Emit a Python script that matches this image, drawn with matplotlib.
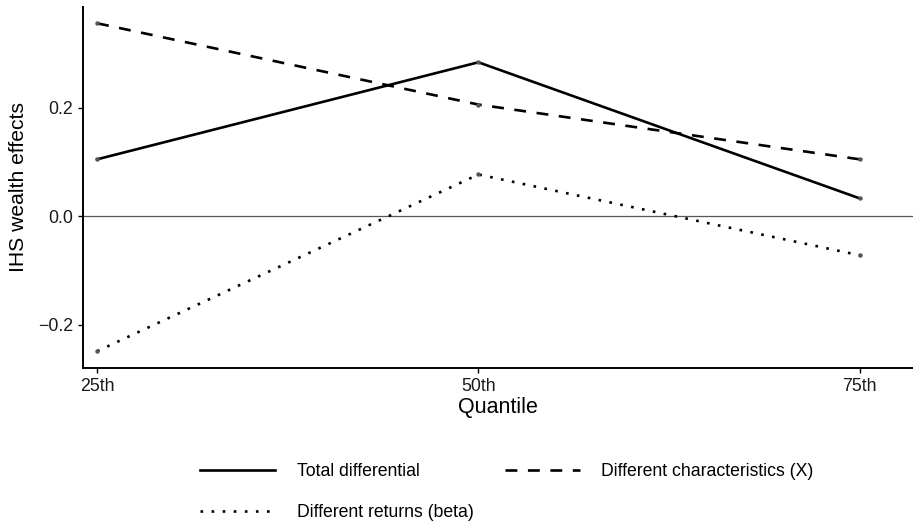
import matplotlib
matplotlib.use("Agg")
import matplotlib.pyplot as plt
from matplotlib.lines import Line2D

plt.rcParams["font.family"] = ["Liberation Sans", "DejaVu Sans"]

quantiles = ["25th", "50th", "75th"]
total_diff = [0.105, 0.284, 0.033]
diff_chars = [0.356, 0.206, 0.105]
diff_returns = [-0.249, 0.077, -0.072]

x = [1, 2, 3]
lw = 1.9

fig = plt.figure(figsize=(9.13, 5.25), dpi=100)
ax = fig.add_axes([83 / 913, 1 - 368 / 525, 1 - 83 / 913, (368 - 7) / 525])

ax.axhline(0, color="#555555", lw=0.9, zorder=1)

styles = [
    (total_diff, "-", "Total differential"),
    (diff_chars, (0, (4.5, 4.0)), "Different characteristics (X)"),
    (diff_returns, (0, (1, 3.2)), "Different returns (beta)"),
]
handles = {}
for vals, ls, lab in styles:
    ax.plot(x, vals, color="black", lw=lw, linestyle=ls, zorder=2)
    ax.plot(x, vals, "o", color="#555555", ms=3.2, mec="none", zorder=3)
    handles[lab] = Line2D([], [], color="black", lw=lw, linestyle=ls)

ax.set_xlim(0.963, 3.14)
ax.set_ylim(-0.280, 0.386)
ax.set_xticks(x)
ax.set_xticklabels(quantiles)
ax.set_yticks([-0.2, 0.0, 0.2])
ax.set_yticklabels(["\u22120.2", "0.0", "0.2"])
ax.tick_params(labelsize=12.8, length=3.5, width=1, pad=3.5,
               color="black", labelcolor="#1a1a1a")

for s in ["top", "right"]:
    ax.spines[s].set_visible(False)
for s in ["left", "bottom"]:
    ax.spines[s].set_linewidth(1.4)

ax.set_xlabel("Quantile", fontsize=15.5, labelpad=2)
ax.set_ylabel("IHS wealth effects", fontsize=15.2, labelpad=7)

order = ["Total differential", "Different returns (beta)", "Different characteristics (X)"]
fig.legend([handles[k] for k in order], order, ncol=2, frameon=False,
           loc="center", bbox_to_anchor=(507 / 913, 1 - 492 / 525), fontsize=12.7,
           handlelength=4.25, handletextpad=1.2, columnspacing=1.8,
           labelspacing=1.35)

fig.savefig("out.png", dpi=100)
